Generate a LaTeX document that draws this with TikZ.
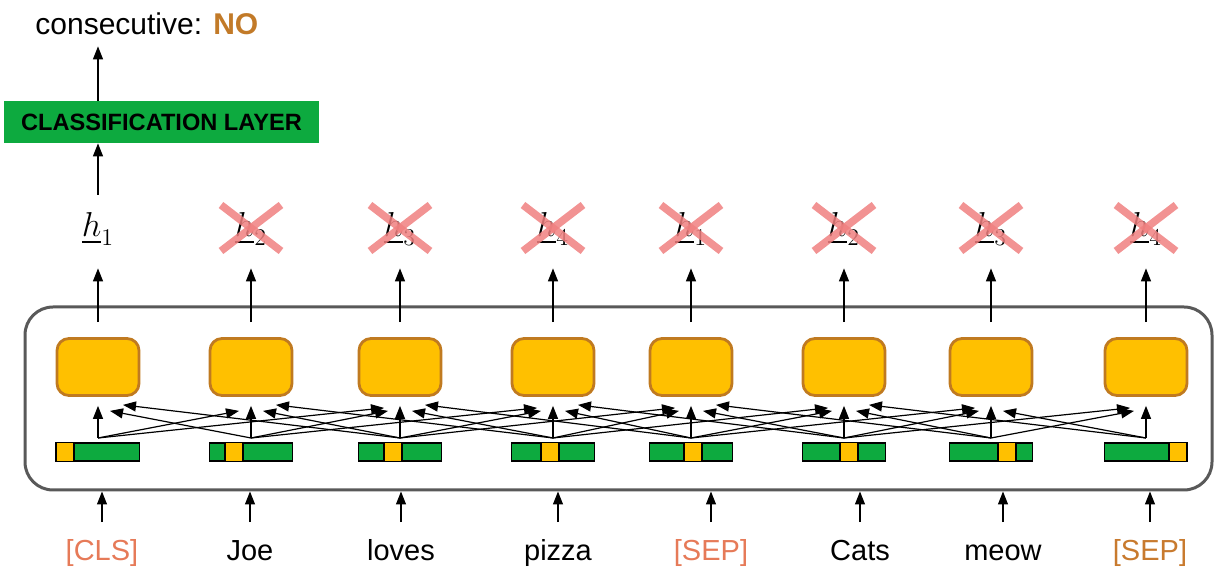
\documentclass[tikz,border=0pt]{standalone}
\usepackage{amsmath}
\usepackage{fontspec}
\setmainfont{Liberation Sans}
\usetikzlibrary{calc}
\usetikzlibrary{positioning}
\usetikzlibrary{arrows.meta}

\definecolor{clsgreen}{RGB}{13,170,63}
\definecolor{cellyellow}{RGB}{255,192,0}
\definecolor{celledge}{RGB}{192,122,32}
\definecolor{crossred}{RGB}{240,128,128}
\definecolor{tokred}{RGB}{230,122,88}
\definecolor{tokbrown}{RGB}{200,122,46}
\definecolor{nobrown}{RGB}{194,122,40}
\definecolor{framegray}{RGB}{89,89,89}

\begin{document}
\begin{tikzpicture}[x=0.5pt, y=-0.5pt,
        arr/.style={-{Triangle[length=6.5pt,width=5pt]}, line width=0.6pt},
        cell/.style={rectangle, rounded corners=6pt, draw=celledge, fill=cellyellow, line width=1.4pt, minimum width=41pt, minimum height=28.5pt, inner sep=0pt},
        bar/.style={rectangle, draw=black, fill=clsgreen, line width=0.6pt, minimum width=41.5pt, minimum height=9pt, inner sep=0pt},
        word/.style={font=\fontsize{14.5}{17}\selectfont, text height=11pt, text depth=3.5pt, inner sep=1pt},
        hid/.style={font=\fontsize{18}{22}\selectfont, text height=13pt, text depth=4pt, inner sep=1pt},
        cross/.style={crossred, line width=3.8pt, draw opacity=0.85}]
    \useasboundingbox (0,0) rectangle (1223,581);

    % output and classifier
    \node (out) [anchor=west, inner sep=2pt, font=\fontsize{15}{18}\selectfont] at (31,24) {consecutive: \textcolor{nobrown}{\bfseries NO}};
    \node (cls) [rectangle, fill=clsgreen, minimum width=157.5pt, minimum height=21pt, font=\fontsize{11.8}{14}\selectfont\bfseries] at (161.5,122) {CLASSIFICATION LAYER};

    % encoder frame
    \node (frame) [draw=framegray, line width=1.5pt, rounded corners=14pt, minimum width=593.5pt, minimum height=91.5pt] at (618.5,398.5) {};

    \def\colx{98/0, 251/16, 400/26, 553/30, 691/35, 844/38, 991/49, 1146/65}
    \foreach \x/\off[count=\i from 1] in \colx
    {
        \pgfmathtruncatemacro\k{mod(\i-1,4)+1}
        \node[cell] (cell\i) at (\x,367) {};
        \node[bar] (bar\i) at (\x,452) {};
        \draw[fill=cellyellow, line width=0.6pt] ($(bar\i.north west)+(\off,0)$) rectangle ($(bar\i.south west)+(\off+18,0)$);
        \coordinate (src\i) at (\x,438);
        \node[hid] (h\i) at (\x,228) {$\underline{h}_{\k}$};
        \draw[arr, shorten <=7.5pt, shorten >=10.5pt] (cell\i.north) -- (h\i.south);
        \draw[arr] (src\i) -- ($(cell\i.south)+(0,9)$);
    }

    % attention between neighbouring tokens
    \foreach \i in {1,...,8}
        \foreach \d in {-2,-1,1,2}
        {
            \pgfmathtruncatemacro\j{\i+\d}
            \ifnum\j>0 \ifnum\j<9
                \ifnum\d>0
                    \pgfmathsetmacro\ox{-12-4*(\d-1)}
                    \pgfmathsetmacro\oy{14-3*(\d-1)}
                \else
                    \pgfmathsetmacro\ox{12-13*(\d+1)}
                    \pgfmathsetmacro\oy{14+6*(\d+1)}
                \fi
                \draw[arr] (src\i) -- ($(cell\j.south)+(\ox,\oy)$);
            \fi\fi
        }

    % dropped outputs
    \foreach \i in {2,...,8}
    {
        \draw[cross] ($(h\i)+(-30,-23)$) -- ($(h\i)+(30,23)$);
        \draw[cross] ($(h\i)+(-30,23)$) -- ($(h\i)+(30,-23)$);
    }

    \draw[arr, shorten <=7pt] (h1.north) -- (h1.north |- cls.south);
    \draw[arr, shorten >=3.5pt] (h1.north |- cls.north) -- (h1.north |- out.south);

    % input tokens
    \foreach \t/\c/\x[count=\i from 1] in {{[CLS]}/tokred/102, Joe/black/250, loves/black/401, pizza/black/558, {[SEP]}/tokred/711, Cats/black/860, meow/black/1003, {[SEP]}/tokbrown/1150}
    {
        \node[word, text=\c] (w\i) at (\x,553) {\t};
        \draw[arr] ([yshift=7pt]w\i.north) -- (w\i.north |- frame.south);
    }
\end{tikzpicture}
\end{document}
